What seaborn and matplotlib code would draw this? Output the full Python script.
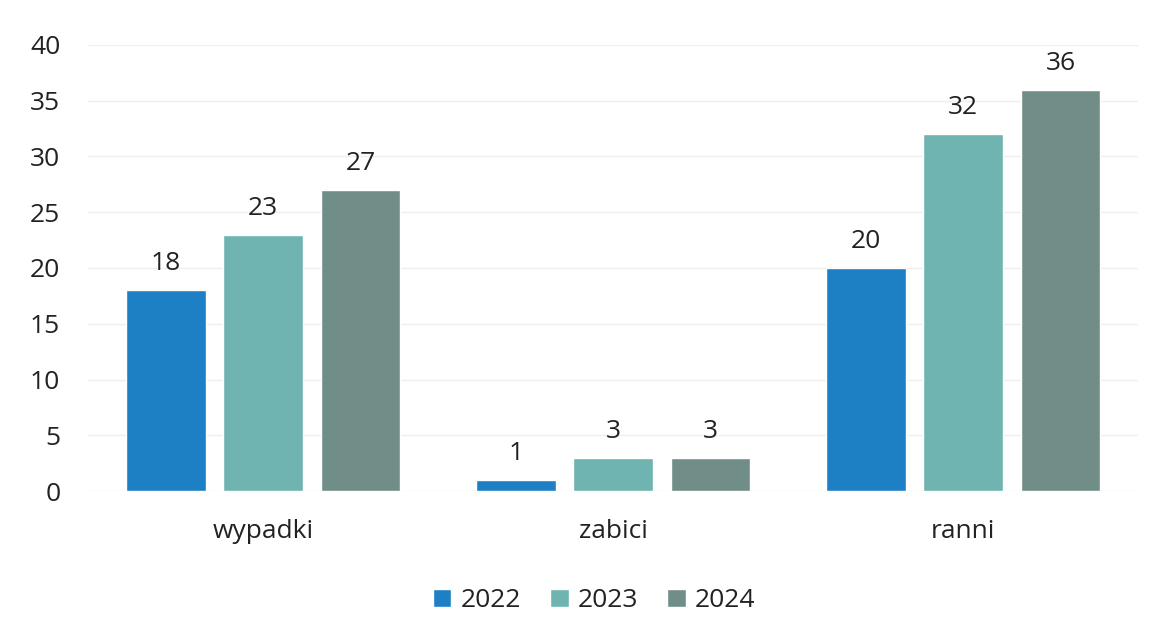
import matplotlib
matplotlib.use("Agg")
import matplotlib.pyplot as plt
import seaborn as sns
import pandas as pd

categories = ["wypadki", "zabici", "ranni"]
years = ["2022", "2023", "2024"]
values_2022 = [18, 1, 20]
values_2023 = [23, 3, 32]
values_2024 = [27, 3, 36]
colors = ["#1e80c4", "#6fb4b0", "#718d88"]

rows = []
for y, vals in zip(years, [values_2022, values_2023, values_2024]):
    for c, v in zip(categories, vals):
        rows.append({"cat": c, "year": y, "val": v})
df = pd.DataFrame(rows)

sns.set_theme(style="white")
plt.rcParams["font.family"] = ["Open Sans", "DejaVu Sans"]

FS = 19
fig = plt.figure(figsize=(11.54, 6.32), dpi=100)
ax = fig.add_axes([0.0763, 0.2231, 0.9099, 0.7057])
sns.barplot(data=df, x="cat", y="val", hue="year", order=categories,
            hue_order=years, palette=colors, width=0.835, gap=0.18,
            saturation=1, ax=ax, legend=True)

ax.set_xlim(-0.5, 2.5)
ax.set_ylim(0, 40)
ax.set_yticks(range(0, 41, 5))
ax.yaxis.grid(True, color="#efefef", linewidth=1)
ax.set_axisbelow(True)
for s in ax.spines.values():
    s.set_visible(False)
ax.set_xlabel("")
ax.set_ylabel("")
ax.tick_params(axis="y", labelsize=FS, colors="#222222", pad=20, length=0)
ax.tick_params(axis="x", labelsize=FS, colors="#222222", pad=20, length=0)

for cont in ax.containers:
    ax.bar_label(cont, fontsize=FS, color="#222222", padding=10)

leg = ax.legend(loc="upper center", bbox_to_anchor=(0.482, -0.165), ncol=3,
                frameon=False, fontsize=FS, handlelength=0.7, handleheight=0.7,
                handletextpad=0.35, columnspacing=1.1)
for t in leg.get_texts():
    t.set_color("#222222")

fig.savefig("out.png", dpi=100, facecolor="white")
